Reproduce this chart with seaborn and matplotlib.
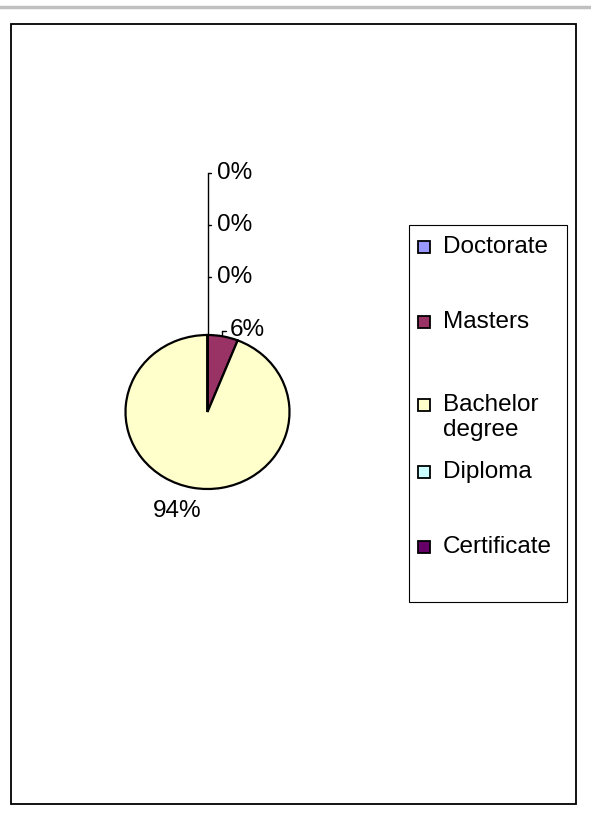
import textwrap
import matplotlib
matplotlib.use("Agg")
import matplotlib.pyplot as plt
from matplotlib.patches import Rectangle
from matplotlib.lines import Line2D
import seaborn as sns

# ---- data ----
categories = ["Doctorate", "Masters", "Bachelor degree", "Diploma", "Certificate"]
values = [0, 6, 94, 0, 0]
colors = ["#9999FF", "#993366", "#FFFFCC", "#CCFFFF", "#660066"]

sns.set_theme(style="white")
plt.rcParams["font.family"] = ["Liberation Sans", "DejaVu Sans"]
plt.rcParams["text.color"] = "black"

W, H = 591, 821
fig = plt.figure(figsize=(W / 100, H / 100), dpi=100)
fig.patch.set_facecolor("white")

def fx(x):
    return x / W

def fy(y):
    return 1 - y / H

# top gray rule and chart border
fig.add_artist(Line2D([0, 1], [fy(7), fy(7)], transform=fig.transFigure,
                      color="#C0C0C0", lw=2.5))
fig.add_artist(Rectangle((fx(11), fy(804)), fx(576) - fx(11), fy(24) - fy(804),
                         transform=fig.transFigure, fill=False,
                         edgecolor="black", lw=1.3))

# ---- pie ----
cx, cy, rx, ry = 207.5, 412, 82, 77
ax = fig.add_axes([fx(cx - rx), fy(cy + ry), 2 * rx / W, 2 * ry / H])
wedges, _ = ax.pie(values, colors=colors, startangle=90, counterclock=False,
                   radius=1.0,
                   wedgeprops=dict(edgecolor="black", linewidth=1.6))
ax.set_aspect("auto")
ax.set_xlim(-1, 1)
ax.set_ylim(-1, 1)
ax.axis("off")

total = sum(values)
pcts = ["%.0f%%" % (v / total * 100) for v in values]

fs = 17.5
def dx(px):
    return (px - cx) / rx

def dy(py):
    return (cy - py) / ry

zero_rows = [173, 225, 277]
zero_idx = [i for i, v in enumerate(values) if v == 0]
# leader line
ax.plot([0, 0], [1, dy(zero_rows[0])], color="black", lw=1, clip_on=False)
for i, row in zip(zero_idx, zero_rows):
    ax.plot([0, dx(211)], [dy(row), dy(row)], color="black", lw=1, clip_on=False)
    ax.text(dx(217), dy(row), pcts[i], fontsize=fs, va="center", ha="left",
            color="black", clip_on=False)

# Masters label
m = categories.index("Masters")
ax.plot([dx(222), dx(226)], [dy(331), dy(331)], color="black", lw=1, clip_on=False)
ax.plot([dx(222), dx(222)], [dy(331), dy(335)], color="black", lw=1, clip_on=False)
ax.text(dx(230), dy(330), pcts[m], fontsize=fs, va="center", ha="left",
        color="black", clip_on=False)

# Bachelor label
b = categories.index("Bachelor degree")
ax.text(dx(177), dy(511), pcts[b], fontsize=fs, va="center", ha="center",
        color="black", clip_on=False)

# ---- legend ----
fig.add_artist(Rectangle((fx(409), fy(602)), fx(567) - fx(409), fy(225) - fy(602),
                         transform=fig.transFigure, fill=False,
                         edgecolor="black", lw=0.8))
legend_rows = [247, 322, 405, 472, 547]
for cat, col, row in zip(categories, colors, legend_rows):
    fig.add_artist(Rectangle((fx(418), fy(row + 6)), 12 / W, 12 / H,
                             transform=fig.transFigure, facecolor=col,
                             edgecolor="black", lw=1.3))
    lines = textwrap.fill(cat, 10, break_long_words=False).split("\n")
    for k, line in enumerate(lines):
        fig.text(fx(443), fy(row + 25 * k), line, fontsize=fs,
                 va="center", ha="left", color="black")

fig.savefig("out.png", dpi=100, facecolor="white")
